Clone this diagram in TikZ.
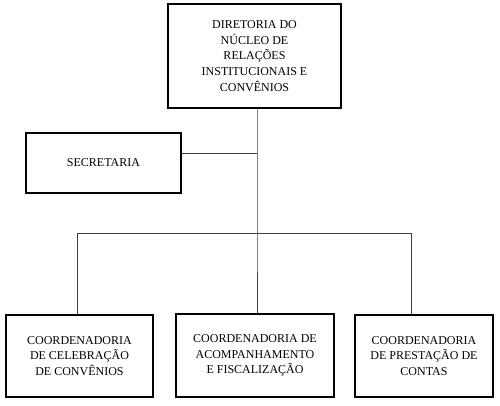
\documentclass[tikz,border=0pt]{standalone}
\usepackage{fontspec}
\setmainfont{Liberation Serif}
\begin{document}
\begin{tikzpicture}[x=0.75pt,y=-0.75pt,
  box/.style={draw=black,line width=1.6pt,inner sep=0pt,align=center,
    font=\fontsize{9}{11.7}\selectfont},
  conn/.style={draw=black!75,line width=0.6pt}]
\useasboundingbox (0,0) rectangle (500,405);
\node[box,minimum width=173*0.75pt,minimum height=104*0.75pt] (top) at (254.5,56)
  {DIRETORIA DO\\NÚCLEO DE\\RELAÇÕES\\INSTITUCIONAIS E\\CONVÊNIOS};
\node[box,minimum width=155*0.75pt,minimum height=60*0.75pt] (sec) at (103.5,163) {SECRETARIA};
\node[box,minimum width=147*0.75pt,minimum height=82*0.75pt] (b1) at (79.5,356)
  {COORDENADORIA\\DE CELEBRAÇÃO\\DE CONVÊNIOS};
\node[box,minimum width=158*0.75pt,minimum height=83*0.75pt] (b2) at (255,355.5)
  {COORDENADORIA DE\\ACOMPANHAMENTO\\E FISCALIZAÇÃO};
\node[box,minimum width=138*0.75pt,minimum height=82*0.75pt] (b3) at (424,356)
  {COORDENADORIA\\DE PRESTAÇÃO DE\\CONTAS};
\coordinate (j1) at (257,153);
\coordinate (j2) at (257,233);
\coordinate (bl) at (77,233);
\coordinate (br) at (411,233);
\draw[conn] (top.south -| j1) -- (j2) -- (b2.north -| j2);
\draw[conn] (sec.east |- j1) -- (j1);
\draw[conn] (bl) -- (br);
\draw[conn] (bl) -- (b1.north -| bl);
\draw[conn] (br) -- (b3.north -| br);
\end{tikzpicture}
\end{document}
